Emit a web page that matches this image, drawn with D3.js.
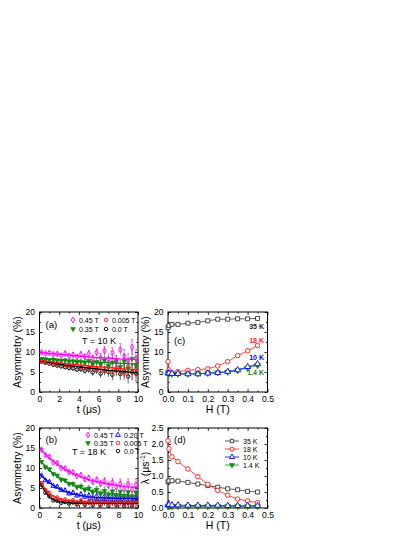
<!DOCTYPE html>
<html>
<head>
<meta charset="utf-8">
<script src="https://cdn.jsdelivr.net/npm/d3@7"></script>
<style>
  body { margin: 0; background: #fff; }
  svg { display: block; font-family: "Liberation Sans", Arial, sans-serif; }
</style>
</head>
<body>
<svg id="chart" width="415" height="537"></svg>
<script>
// ---- spectra (a) and (b): time bins, asymmetry per field ----
var tBins = [0.2, 0.6, 1.0, 1.4, 1.8, 2.2, 2.6, 3.0, 3.4, 3.8, 4.2, 4.6, 5.0, 5.4, 5.8, 6.2, 6.6, 7.0, 7.4, 7.8, 8.2, 8.6, 9.0, 9.4, 9.8]
var fitT = [0, 1, 2, 3, 4, 5, 6, 7, 8, 9, 10]

// (a) T = 10 K
var a045 = [9.9, 9.6, 9.8, 9.4, 9.5, 9.1, 9.6, 9.0, 9.3, 8.7, 9.4, 8.8, 9.6, 8.4, 9.9, 8.6, 10.3, 8.1, 9.8, 7.6, 10.6, 8.9, 7.8, 11.2, 8.4]
var a035 = [8.3, 8.2, 8.0, 8.1, 7.9, 7.8, 7.9, 7.6, 7.7, 7.4, 7.6, 7.3, 7.8, 7.0, 7.5, 6.9, 7.9, 6.6, 7.4, 7.8, 6.3, 7.7, 5.9, 8.3, 6.6]
var a0005 = [7.7, 7.5, 7.4, 7.2, 7.0, 6.9, 6.8, 6.7, 6.5, 6.6, 6.2, 6.4, 6.0, 6.3, 5.7, 6.1, 5.4, 6.2, 5.0, 6.0, 5.6, 4.6, 6.3, 4.9, 5.8]
var a00 = [7.6, 7.3, 7.1, 6.8, 6.6, 6.4, 6.2, 6.0, 5.9, 5.6, 5.7, 5.3, 5.6, 4.9, 5.4, 4.6, 5.3, 5.0, 4.3, 5.4, 4.5, 5.1, 3.9, 5.0, 4.6]
var aErr = [0.3, 0.3, 0.3, 0.35, 0.4, 0.4, 0.45, 0.5, 0.55, 0.6, 0.65, 0.7, 0.8, 0.85, 0.9, 1.0, 1.1, 1.2, 1.3, 1.4, 1.5, 1.7, 1.8, 2.0, 2.2]
var aFit045 = [9.9, 9.6, 9.4, 9.2, 9.0, 8.8, 8.6, 8.5, 8.3, 8.2, 8.1]
var aFit035 = [8.4, 8.2, 8.1, 7.9, 7.7, 7.6, 7.5, 7.3, 7.2, 7.1, 7.0]
var aFit0005 = [7.9, 7.6, 7.3, 7.0, 6.8, 6.5, 6.3, 6.1, 5.9, 5.7, 5.5]
var aFit00 = [7.8, 7.4, 7.0, 6.6, 6.3, 6.0, 5.7, 5.4, 5.2, 5.0, 4.8]

// (b) T = 18 K
var b045 = [14.6, 13.2, 12.8, 11.4, 11.2, 10.0, 9.9, 9.0, 8.9, 8.0, 8.2, 7.2, 7.5, 6.5, 7.0, 6.1, 6.7, 5.6, 6.4, 5.2, 6.1, 4.8, 6.0, 4.6, 5.8]
var b035 = [11.6, 10.2, 9.7, 8.5, 8.1, 7.1, 6.9, 6.0, 6.0, 5.2, 5.4, 4.5, 4.9, 3.9, 4.6, 3.5, 4.3, 3.2, 4.2, 3.0, 4.1, 2.8, 4.0, 2.7, 3.9]
var b020 = [8.1, 6.9, 6.5, 5.5, 5.3, 4.5, 4.4, 3.6, 3.8, 3.1, 3.4, 2.8, 3.1, 2.4, 3.0, 2.3, 2.9, 2.1, 2.8, 2.0, 2.8, 1.9, 2.7, 1.8, 2.6]
var b0005 = [6.2, 4.5, 3.8, 2.7, 2.6, 2.0, 2.1, 1.6, 1.9, 1.3, 1.8, 1.2, 1.7, 1.1, 1.8, 1.0, 1.9, 1.1, 1.6, 0.9, 1.8, 1.0, 1.7, 0.8, 1.9]
var b00 = [5.8, 3.8, 2.9, 1.9, 1.8, 1.3, 1.5, 1.1, 1.4, 0.9, 1.5, 0.8, 1.4, 0.7, 1.6, 0.8, 1.5, 0.6, 1.4, 0.7, 1.6, 0.5, 1.3, 0.6, 1.5]
var bErr = [0.3, 0.3, 0.35, 0.35, 0.4, 0.4, 0.45, 0.5, 0.5, 0.55, 0.6, 0.65, 0.7, 0.75, 0.8, 0.85, 0.9, 0.95, 1.0, 1.1, 1.15, 1.2, 1.3, 1.4, 1.5]
var bFit045 = [15.0, 12.5, 10.6, 9.1, 8.0, 7.1, 6.5, 6.0, 5.6, 5.3, 5.1]
var bFit035 = [12.0, 9.5, 7.6, 6.2, 5.2, 4.5, 4.0, 3.7, 3.5, 3.3, 3.2]
var bFit020 = [8.5, 6.3, 4.8, 3.8, 3.2, 2.8, 2.6, 2.5, 2.4, 2.4, 2.3]
var bFit0005 = [6.8, 3.6, 2.3, 1.8, 1.6, 1.5, 1.5, 1.5, 1.5, 1.5, 1.5]
var bFit00 = [6.5, 2.8, 1.6, 1.3, 1.2, 1.2, 1.2, 1.2, 1.2, 1.2, 1.2]

// ---- field scans (c) and (d) ----
var fields = [0, 0.005, 0.02, 0.05, 0.1, 0.15, 0.2, 0.25, 0.3, 0.35, 0.4, 0.45]
var asy35K = [16.1, 16.6, 16.9, 16.9, 17.2, 17.4, 17.8, 18.2, 18.2, 18.3, 18.3, 18.4]
var asy18K = [7.6, 5.5, 4.8, 5.1, 5.4, 5.6, 5.8, 6.5, 7.6, 9.1, 10.3, 11.6]
var asy10K = [4.7, 4.7, 4.6, 4.6, 4.5, 4.5, 4.7, 4.8, 5.1, 5.5, 6.3, 7.0]
var asy1p4K = [4.8, 4.6, 4.5, 4.5, 4.5, 4.6, 4.7, 4.9, 5.0, 5.4, 6.0, 6.7]
var lam35K = [0.82, 0.85, 0.85, 0.84, 0.80, 0.75, 0.70, 0.65, 0.60, 0.57, 0.52, 0.50]
var lam18K = [2.1, 1.85, 1.6, 1.45, 1.22, 0.98, 0.74, 0.55, 0.4, 0.28, 0.22, 0.17]
var lam10K = [0.1, 0.1, 0.09, 0.09, 0.08, 0.08, 0.08, 0.08, 0.07, 0.07, 0.07, 0.07]
var lam1p4K = [0.05, 0.05, 0.05, 0.05, 0.05, 0.05, 0.05, 0.05, 0.05, 0.05, 0.05, 0.05]

var MAG = '#ff00ff', GRN = '#118811', RED = '#ff1a1a', BLU = '#0000ff', BLK = '#000'

var svg = d3.select('#chart')

// marker helper
function marker (g, kind, color, size) {
  var type = {sq: d3.symbolSquare, ci: d3.symbolCircle, up: d3.symbolTriangle, dn: d3.symbolTriangle, di: d3.symbolDiamond}[kind]
  var p = g.append('path').attr('d', d3.symbol().type(type).size(size || 14))
  if (kind === 'dn') p.attr('transform', 'rotate(180)')
  if (kind === 'dn') p.attr('fill', color).attr('stroke', color).attr('stroke-width', 0.6)
  else p.attr('fill', 'none').attr('stroke', color).attr('stroke-width', 0.9)
  return p
}

// frame with inward ticks on all four sides
function makePanel (cfg) {
  var x = d3.scaleLinear().domain(cfg.xd).range([cfg.x0, cfg.x1])
  var y = d3.scaleLinear().domain(cfg.yd).range([cfg.y1, cfg.y0])
  var g = svg.append('g')
  var f = cfg.fmtY || d3.format('d')
  var fx = cfg.fmtX || d3.format('d')

  function ax (axis, tr, vals, size, fmt, pad) {
    var gg = g.append('g').attr('transform', tr)
      .call(axis.tickValues(vals).tickSize(size).tickSizeOuter(0).tickPadding(pad || 3).tickFormat(fmt))
    gg.select('.domain').remove()
    gg.selectAll('line').attr('stroke', '#000').attr('stroke-width', 0.8)
    gg.selectAll('text').attr('font-size', 8.6).attr('fill', '#000')
    return gg
  }
  ax(d3.axisBottom(x), 'translate(0,' + cfg.y1 + ')', cfg.xMaj, -3, fx, 4)
  ax(d3.axisBottom(x), 'translate(0,' + cfg.y1 + ')', cfg.xMin, -1.6, '')
  ax(d3.axisTop(x), 'translate(0,' + cfg.y0 + ')', cfg.xMaj, -3, '')
  ax(d3.axisTop(x), 'translate(0,' + cfg.y0 + ')', cfg.xMin, -1.6, '')
  ax(d3.axisLeft(y), 'translate(' + cfg.x0 + ',0)', cfg.yMaj, -3, f, 4.5)
  ax(d3.axisLeft(y), 'translate(' + cfg.x0 + ',0)', cfg.yMin, -1.6, '')
  ax(d3.axisRight(y), 'translate(' + cfg.x1 + ',0)', cfg.yMaj, -3, '')
  ax(d3.axisRight(y), 'translate(' + cfg.x1 + ',0)', cfg.yMin, -1.6, '')

  g.append('rect').attr('x', cfg.x0).attr('y', cfg.y0)
    .attr('width', cfg.x1 - cfg.x0).attr('height', cfg.y1 - cfg.y0)
    .attr('fill', 'none').attr('stroke', '#000').attr('stroke-width', 1)

  var id = 'clip' + cfg.tag
  svg.append('clipPath').attr('id', id).append('rect')
    .attr('x', cfg.x0).attr('y', cfg.y0).attr('width', cfg.x1 - cfg.x0).attr('height', cfg.y1 - cfg.y0)
  var plot = g.append('g').attr('clip-path', 'url(#' + id + ')')

  g.append('text').attr('x', (cfg.x0 + cfg.x1) / 2).attr('y', cfg.y1 + 21)
    .attr('text-anchor', 'middle').attr('font-size', 10.5).text(cfg.xTitle)
  var yt = g.append('text')
    .attr('transform', 'translate(' + (cfg.x0 - 19) + ',' + ((cfg.y0 + cfg.y1) / 2) + ') rotate(-90)')
    .attr('text-anchor', 'middle').attr('font-size', 10.5)
  cfg.yTitle(yt)
  g.append('text').attr('x', cfg.x0 + 6).attr('y', cfg.y0 + cfg.tagDy)
    .attr('font-size', 9.5).text('(' + cfg.tag + ')')
  return {x: x, y: y, g: g, plot: plot}
}

// spectra panel: error bars, markers, fit curves
function drawSpectra (p, series, err) {
  series.forEach(function (s) {
    var sg = p.plot.append('g')
    tBins.forEach(function (t, i) {
      var cx = p.x(t), v = s.vals[i]
      sg.append('line').attr('x1', cx).attr('x2', cx)
        .attr('y1', p.y(v - err[i])).attr('y2', p.y(v + err[i]))
        .attr('stroke', s.color).attr('stroke-width', 0.6)
      sg.append('line').attr('x1', cx - 1).attr('x2', cx + 1)
        .attr('y1', p.y(v + err[i])).attr('y2', p.y(v + err[i]))
        .attr('stroke', s.color).attr('stroke-width', 0.6)
      var m = sg.append('g').attr('transform', 'translate(' + cx + ',' + p.y(v) + ')')
      marker(m, s.kind, s.color, 10)
    })
  })
  var line = d3.line().x(function (d) { return p.x(d[0]) }).y(function (d) { return p.y(d[1]) }).curve(d3.curveMonotoneX)
  series.forEach(function (s) {
    p.plot.append('path').datum(fitT.map(function (t, i) { return [t, s.fit[i]] }))
      .attr('d', line).attr('fill', 'none').attr('stroke', s.color).attr('stroke-width', 1.3)
  })
}

// field scan: connecting lines + markers
function drawScan (p, series) {
  var line = d3.line().x(function (d) { return p.x(d[0]) }).y(function (d) { return p.y(d[1]) })
  series.forEach(function (s) {
    var pts = fields.map(function (h, i) { return [h, s.vals[i]] })
    p.g.append('path').datum(pts).attr('d', line)
      .attr('fill', 'none').attr('stroke', s.color).attr('stroke-width', 0.8)
    pts.forEach(function (d) {
      var m = p.g.append('g').attr('transform', 'translate(' + p.x(d[0]) + ',' + p.y(d[1]) + ')')
      marker(m, s.kind, s.color, 16).attr('fill', s.kind === 'dn' ? s.color : '#fff')
    })
  })
}

function legendItem (x, y, kind, color, label) {
  var m = svg.append('g').attr('transform', 'translate(' + x + ',' + y + ')')
  marker(m, kind, color, 10)
  svg.append('text').attr('x', x + 6).attr('y', y + 2.5).attr('font-size', 7).text(label)
}

var tMaj = [0, 2, 4, 6, 8, 10], tMin = [1, 3, 5, 7, 9]
var aMaj = [0, 5, 10, 15, 20], aMin = [2.5, 7.5, 12.5, 17.5]
var hMaj = [0, 0.1, 0.2, 0.3, 0.4, 0.5], hMin = [0.05, 0.15, 0.25, 0.35, 0.45]
var lMaj = [0, 0.5, 1, 1.5, 2, 2.5], lMin = [0.25, 0.75, 1.25, 1.75, 2.25]
var asyTitle = function (t) { t.text('Asymmetry (%)') }
var lamTitle = function (t) {
  t.append('tspan').text('\u03bb (\u03bcs')
  t.append('tspan').attr('font-size', 7).attr('dy', -4).text('-1')
  t.append('tspan').attr('dy', 4).text(')')
}

// ---- (a) ----
var pa = makePanel({tag: 'a', tagDy: 16, x0: 39.5, x1: 138, y0: 312, y1: 392, xd: [0, 10], yd: [0, 20],
  xMaj: tMaj, xMin: tMin, yMaj: aMaj, yMin: aMin, xTitle: 't (\u03bcs)', yTitle: asyTitle})
drawSpectra(pa, [
  {vals: a00, fit: aFit00, color: BLK, kind: 'ci'},
  {vals: a0005, fit: aFit0005, color: RED, kind: 'ci'},
  {vals: a035, fit: aFit035, color: GRN, kind: 'dn'},
  {vals: a045, fit: aFit045, color: MAG, kind: 'di'}
], aErr)
legendItem(73, 320, 'di', MAG, '0.45 T')
legendItem(106, 320, 'ci', RED, '0.005 T')
legendItem(73, 329, 'dn', GRN, '0.35 T')
legendItem(106, 329, 'ci', BLK, '0.0 T')
svg.append('text').attr('x', 82).attr('y', 344).attr('font-size', 9).text('T = 10 K')

// ---- (b) ----
var pb = makePanel({tag: 'b', tagDy: 15, x0: 39.5, x1: 138, y0: 428, y1: 508, xd: [0, 10], yd: [0, 20],
  xMaj: tMaj, xMin: tMin, yMaj: aMaj, yMin: aMin, xTitle: 't (\u03bcs)', yTitle: asyTitle})
drawSpectra(pb, [
  {vals: b00, fit: bFit00, color: BLK, kind: 'ci'},
  {vals: b0005, fit: bFit0005, color: RED, kind: 'ci'},
  {vals: b020, fit: bFit020, color: BLU, kind: 'up'},
  {vals: b035, fit: bFit035, color: GRN, kind: 'dn'},
  {vals: b045, fit: bFit045, color: MAG, kind: 'di'}
], bErr)
legendItem(88, 435, 'di', MAG, '0.45 T')
legendItem(118, 435, 'up', BLU, '0.20 T')
legendItem(88, 443, 'dn', GRN, '0.35 T')
legendItem(118, 443, 'ci', RED, '0.005 T')
legendItem(118, 451, 'ci', BLK, '0.0 T')
svg.append('text').attr('x', 72).attr('y', 455).attr('font-size', 9).text('T = 18 K')

// ---- (c) ----
var pc = makePanel({tag: 'c', tagDy: 32, x0: 168, x1: 267.5, y0: 312, y1: 392, xd: [0, 0.5], yd: [0, 20],
  xMaj: hMaj, xMin: hMin, yMaj: aMaj, yMin: aMin, fmtX: d3.format('.1f'), xTitle: 'H (T)', yTitle: asyTitle})
drawScan(pc, [
  {vals: asy35K, color: '#333', kind: 'sq'},
  {vals: asy18K, color: RED, kind: 'ci'},
  {vals: asy1p4K, color: GRN, kind: 'dn'},
  {vals: asy10K, color: BLU, kind: 'up'}
])
;[['35 K', '#222', 328.5], ['18 K', RED, 343], ['10 K', BLU, 360], ['1.4 K', GRN, 375]].forEach(function (l) {
  svg.append('text').attr('x', 264).attr('y', l[2]).attr('text-anchor', 'end')
    .attr('font-size', 7).attr('font-weight', 'bold').attr('fill', l[1]).text(l[0])
})

// ---- (d) ----
var pd = makePanel({tag: 'd', tagDy: 15, x0: 168, x1: 267.5, y0: 428, y1: 508, xd: [0, 0.5], yd: [0, 2.5],
  xMaj: hMaj, xMin: hMin, yMaj: lMaj, yMin: lMin, fmtX: d3.format('.1f'), fmtY: d3.format('.1f'),
  xTitle: 'H (T)', yTitle: lamTitle})
drawScan(pd, [
  {vals: lam35K, color: '#333', kind: 'sq'},
  {vals: lam18K, color: RED, kind: 'ci'},
  {vals: lam1p4K, color: GRN, kind: 'dn'},
  {vals: lam10K, color: BLU, kind: 'up'}
])
;[['sq', '#333', '35 K'], ['ci', RED, '18 K'], ['up', BLU, '10 K'], ['dn', GRN, '1.4 K']].forEach(function (l, i) {
  var yy = 441 + i * 8
  svg.append('line').attr('x1', 225).attr('x2', 239).attr('y1', yy).attr('y2', yy)
    .attr('stroke', l[1]).attr('stroke-width', 0.8)
  var m = svg.append('g').attr('transform', 'translate(232,' + yy + ')')
  marker(m, l[0], l[1], 12).attr('fill', l[0] === 'dn' ? l[1] : '#fff')
  svg.append('text').attr('x', 243).attr('y', yy + 2.5).attr('font-size', 7).text(l[2])
})
</script>
</body>
</html>
